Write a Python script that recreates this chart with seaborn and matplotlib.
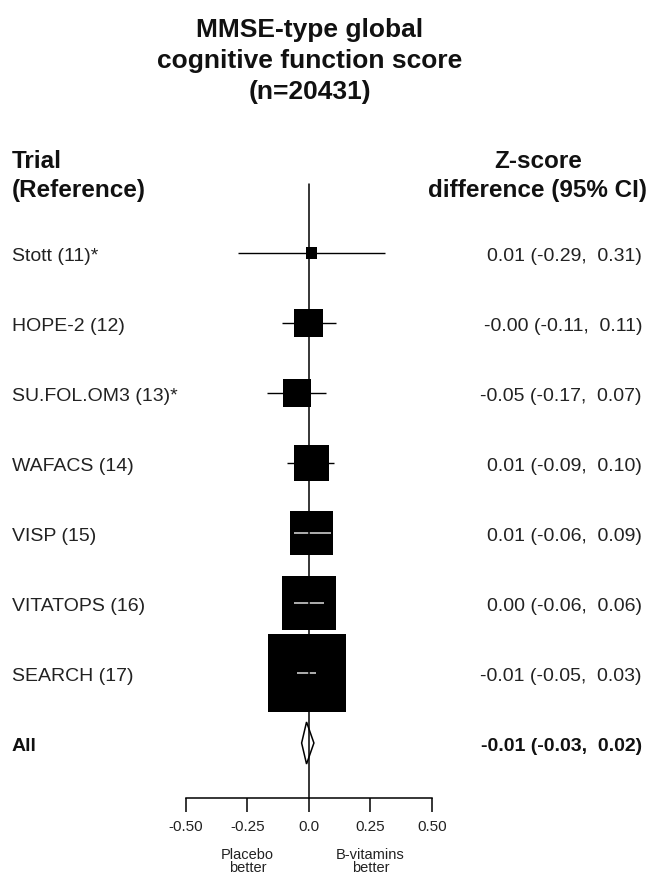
import numpy as np
import matplotlib
matplotlib.use('Agg')
import matplotlib.pyplot as plt
import seaborn as sns

# data
trials = ['Stott (11)*', 'HOPE-2 (12)', 'SU.FOL.OM3 (13)*', 'WAFACS (14)',
          'VISP (15)', 'VITATOPS (16)', 'SEARCH (17)']
estimate = [0.01, -0.001, -0.05, 0.01, 0.01, 0.00, -0.01]
ci_low = [-0.29, -0.11, -0.17, -0.09, -0.06, -0.06, -0.05]
ci_high = [0.31, 0.11, 0.07, 0.10, 0.09, 0.06, 0.03]
weight = [0.9, 6.0, 5.6, 8.8, 13.3, 21.7, 43.7]   # % weight, box area

pooled_label = 'All'
pooled_est = -0.01
pooled_low = -0.03
pooled_high = 0.02

ticks = [-0.50, -0.25, 0.0, 0.25, 0.50]
tick_labels = ['-0.50', '-0.25', '0.0', '0.25', '0.50']

sns.set_theme(style='white')
plt.rcParams['font.family'] = ['Liberation Sans', 'DejaVu Sans']

W, H = 651, 878
fig = plt.figure(figsize=(W / 100, H / 100), dpi=100)
ax = fig.add_axes([0, 0, 1, 1])

# pixel layout: x=0 at 309px, 246px per unit; row 0 at 254px, 70px per row
X0, XS = 309, 246.0
Y0, YS = 254, 70.0
ax.set_xlim(-X0 / XS, (W - X0) / XS)
ax.set_ylim((H - Y0) / YS, -Y0 / YS)


def px_x(p):
    return (p - X0) / XS


def px_y(p):
    return (p - Y0) / YS


rows = np.arange(len(trials))

# box side in px proportional to sqrt(weight)
k_px = 11.8
side_px = k_px * np.sqrt(np.array(weight))
area_pt2 = (side_px * 0.72) ** 2

# CI lines under the boxes
ax.hlines(rows, ci_low, ci_high, color='black', lw=1.0, zorder=1)

sns.scatterplot(x=estimate, y=rows, size=weight,
                sizes=(area_pt2.min(), area_pt2.max()),
                size_norm=(min(weight), max(weight)),
                marker='s', color='black', linewidth=0, legend=False,
                ax=ax, zorder=2)

# CI drawn white where it sits fully inside the box
half = side_px / 2 / XS
for r, e, lo, hi, h in zip(rows, estimate, ci_low, ci_high, half):
    if lo > e - h and hi < e + h:
        ax.hlines(r, lo, hi, color='#dddddd', lw=1.1, zorder=3)

# pooled diamond
r_all = len(trials)
dh = 0.3
ax.fill([pooled_low, pooled_est, pooled_high, pooled_est],
        [r_all, r_all - dh, r_all, r_all + dh],
        facecolor='white', edgecolor='black', lw=1.1, zorder=3)

# line of no effect and x axis
y_axis = px_y(799)
ax.plot([0, 0], [px_y(185), y_axis], color='black', lw=1.1, zorder=4)

for s in ['left', 'right', 'top']:
    ax.spines[s].set_visible(False)
ax.spines['bottom'].set_position(('data', y_axis))
ax.spines['bottom'].set_bounds(ticks[0], ticks[-1])
ax.spines['bottom'].set_color('black')
ax.spines['bottom'].set_linewidth(1.1)
ax.set_xticks(ticks, tick_labels)
ax.set_yticks([])
ax.tick_params(axis='x', bottom=True, direction='out', length=10.0, width=1.1,
               color='black', labelsize=11, labelcolor='#222222', pad=5)
ax.set_xlabel('')
ax.set_ylabel('')
ax.patch.set_alpha(0)

# texts
title_lines = ['MMSE-type global', 'cognitive function score', '(n=20431)']
for line, b in zip(title_lines, [37, 68, 99]):
    ax.text(px_x(310), px_y(b), line, ha='center', va='baseline',
            fontsize=19, fontweight='bold', color='#111111')

ax.text(px_x(12), px_y(168), 'Trial', ha='left', va='baseline',
        fontsize=17.5, fontweight='bold', color='#111111')
ax.text(px_x(12), px_y(197), '(Reference)', ha='left', va='baseline',
        fontsize=17.5, fontweight='bold', color='#111111')
ax.text(px_x(538), px_y(168), 'Z-score', ha='center', va='baseline',
        fontsize=17.5, fontweight='bold', color='#111111')
ax.text(px_x(538), px_y(197), 'difference (95% CI)', ha='center', va='baseline',
        fontsize=17.5, fontweight='bold', color='#111111')

off = 7 / YS
for r, name, e, lo, hi in zip(rows, trials, estimate, ci_low, ci_high):
    ax.text(px_x(12), r + off, name, ha='left', va='baseline',
            fontsize=14, color='#222222')
    ax.text(px_x(642), r + off, f'{e:.2f} ({lo:.2f},  {hi:.2f})',
            ha='right', va='baseline', fontsize=14, color='#222222')

ax.text(px_x(12), r_all + off, pooled_label, ha='left', va='baseline',
        fontsize=14, fontweight='bold', color='#111111')
ax.text(px_x(642), r_all + off,
        f'{pooled_est:.2f} ({pooled_low:.2f},  {pooled_high:.2f})',
        ha='right', va='baseline', fontsize=14, fontweight='bold', color='#111111')

for xv, l1 in [(-0.25, 'Placebo'), (0.25, 'B-vitamins')]:
    ax.text(xv, px_y(859), l1, ha='center', va='baseline', fontsize=10.5,
            color='#222222')
    ax.text(xv, px_y(872), 'better', ha='center', va='baseline', fontsize=10.5,
            color='#222222')

fig.savefig('out.png', dpi=100, facecolor='white')
